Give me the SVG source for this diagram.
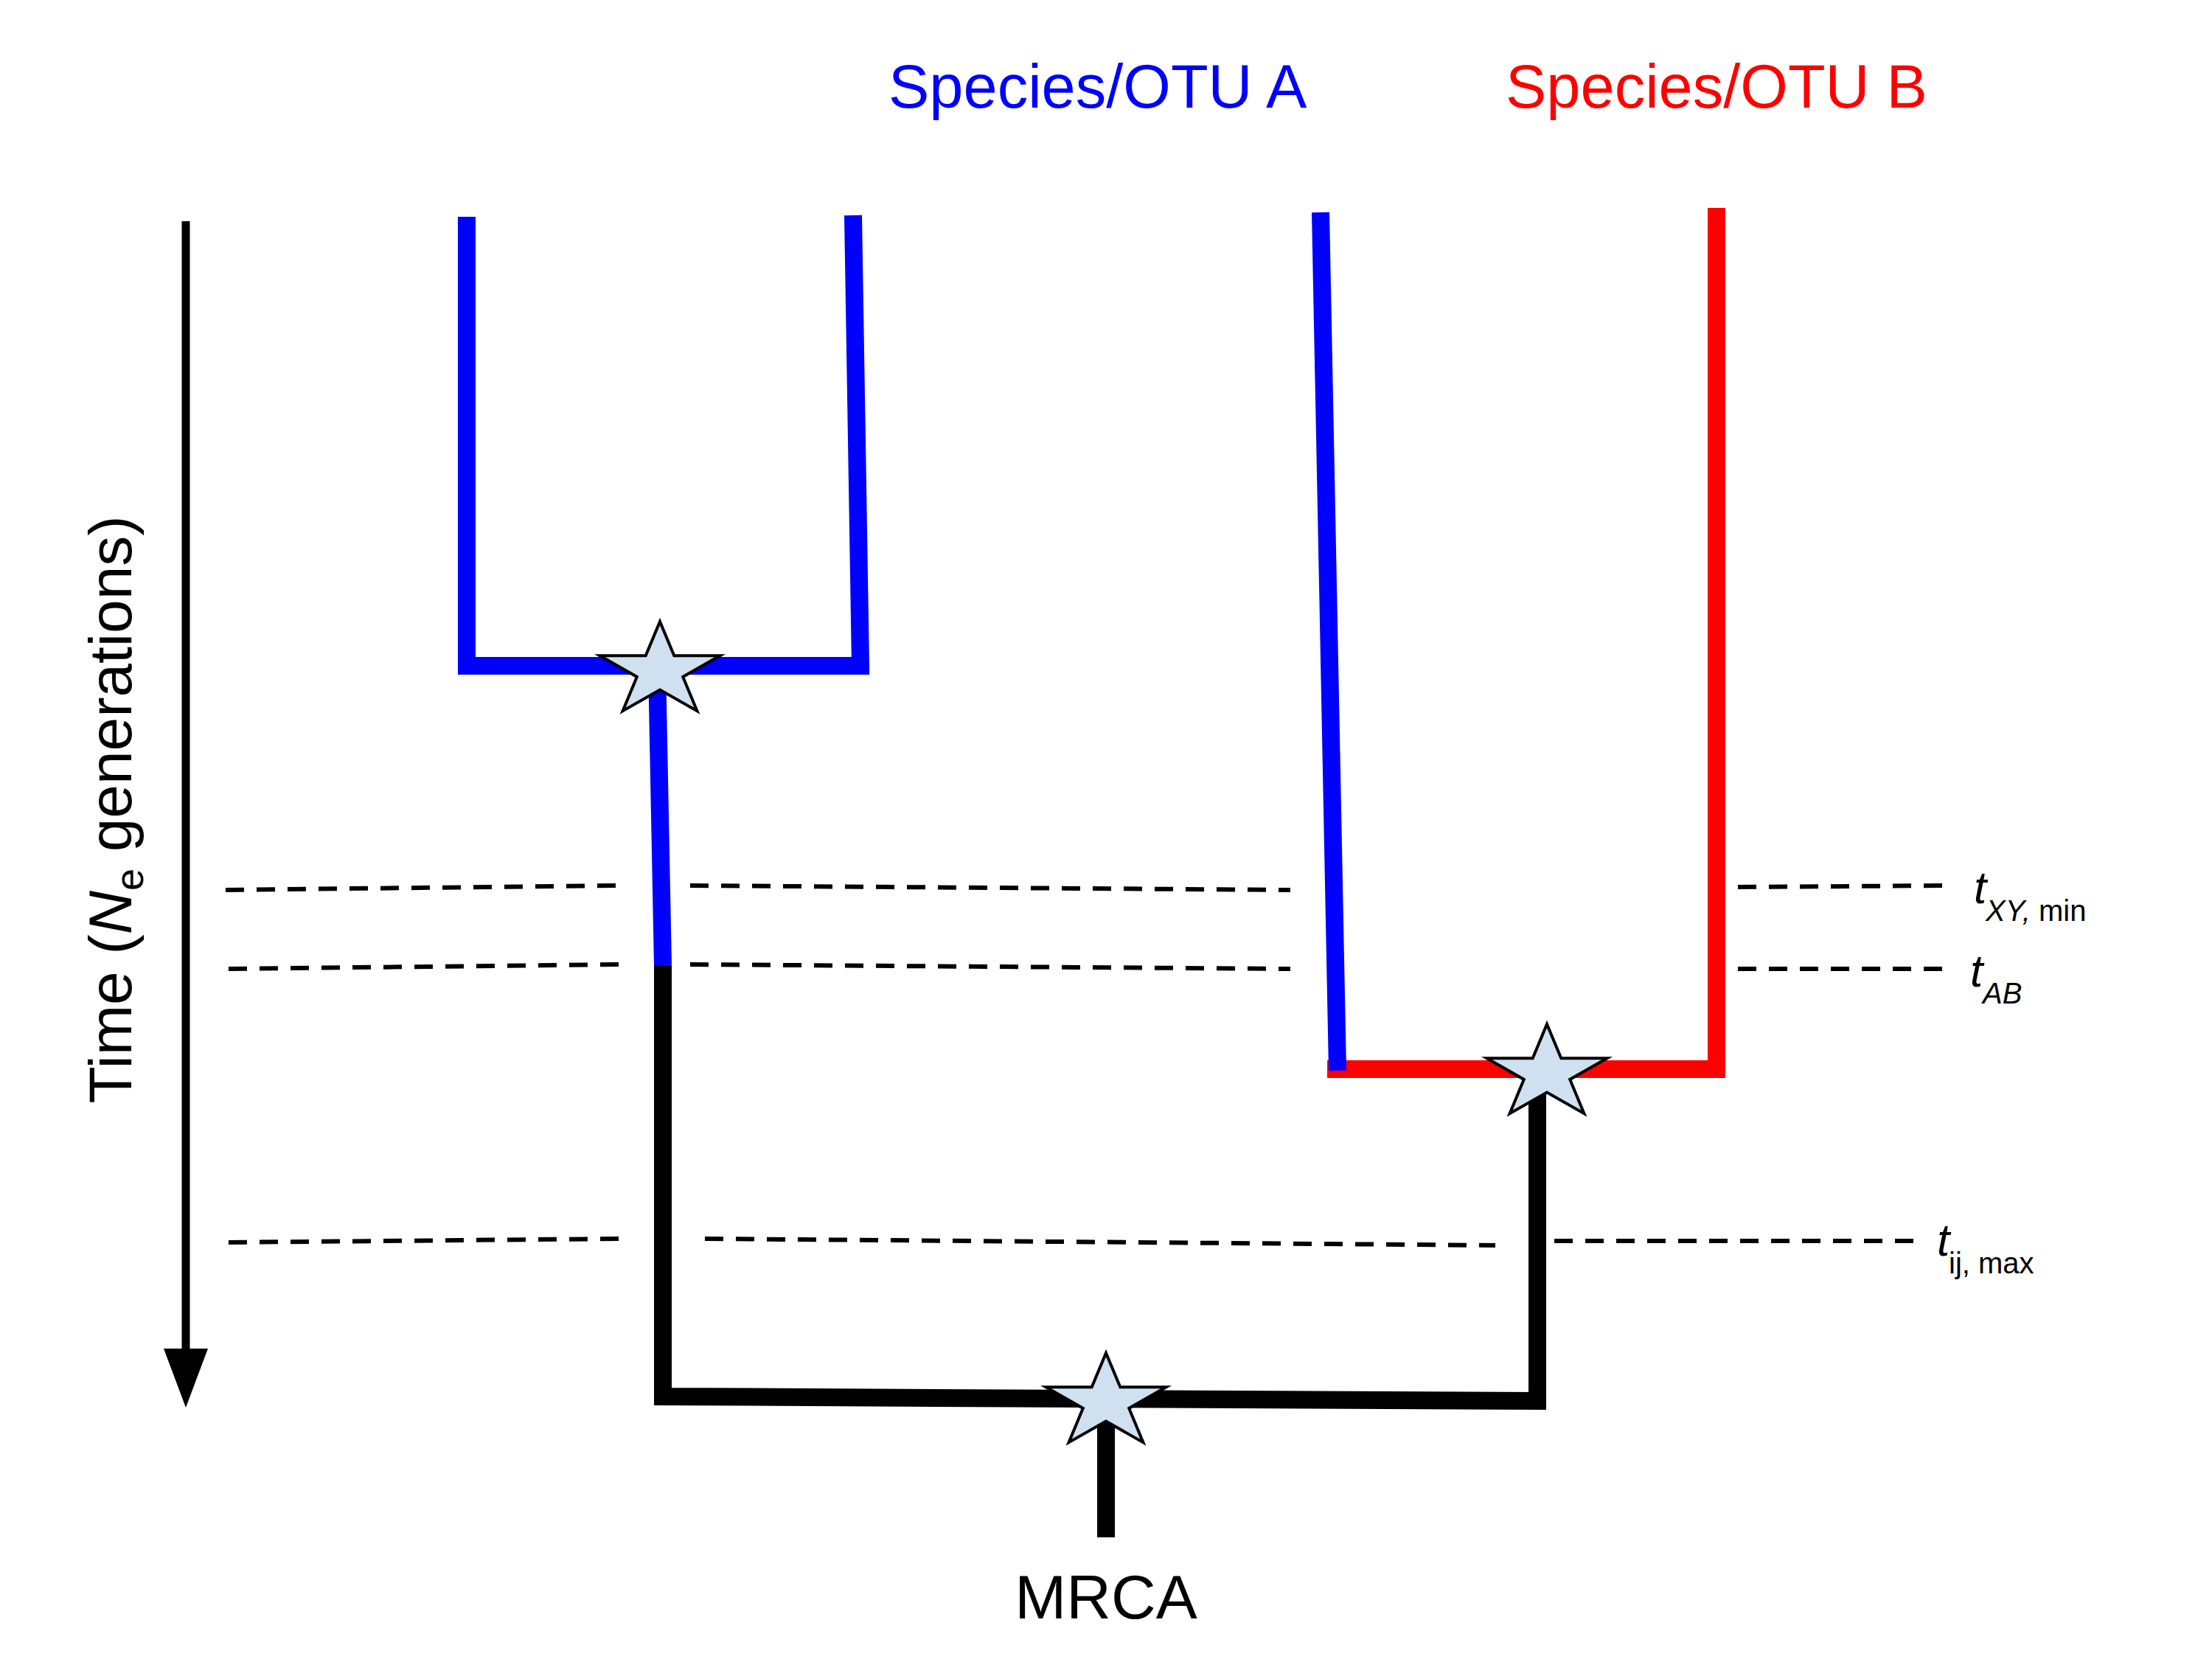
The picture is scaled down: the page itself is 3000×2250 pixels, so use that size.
<svg xmlns="http://www.w3.org/2000/svg" xmlns:xlink="http://www.w3.org/1999/xlink" width="3000" height="2250" viewBox="0 0 3000 2250">
<style>
text{font-family:"Liberation Sans",Arial,sans-serif;}
.br{fill:none;stroke-width:24;stroke-linecap:butt;stroke-linejoin:miter;}
.blue{stroke:#0000FF;}
.red{stroke:#FF0000;}
.blk{stroke:#000000;}
.dash{fill:none;stroke:#000;stroke-width:6;stroke-dasharray:25 17;}
.star{fill:#CFE0F1;stroke:#000;stroke-width:4;stroke-linejoin:miter;}
.lab{font-size:62px;font-style:italic;fill:#000;}
.sub{font-size:40px;fill:#000;}
.it{font-style:italic;}
</style>
<defs>
<path id="starShape" d="M0,-67 L19.3,-20.7 L81.5,-20.7 L31.2,7.9 L50.4,54.2 L0,25.6 L-50.4,54.2 L-31.2,7.9 L-81.5,-20.7 L-19.3,-20.7 Z"/>
</defs>
<rect width="3000" height="2250" fill="#FFFFFF"/>

<g id="titles">
<text x="1205" y="146" font-size="83" fill="#0000FF">Species/OTU A</text>
<text x="2042" y="146" font-size="83" fill="#FF0000">Species/OTU B</text>
</g>

<g id="axis">
<line x1="252" y1="300" x2="252" y2="1832" stroke="#000" stroke-width="11"/>
<polygon points="222,1829 282,1829 252,1909" fill="#000"/>
<text transform="translate(178,1098) rotate(-90)" text-anchor="middle" font-size="82" fill="#000">Time (<tspan class="it">N</tspan><tspan font-size="54" dy="16">e</tspan><tspan dy="-16"> generations)</tspan></text>
</g>

<g id="guides">
<line class="dash" x1="306" y1="1207" x2="837" y2="1201"/>
<line class="dash" x1="936" y1="1201" x2="1750" y2="1207"/>
<line class="dash" x1="2357" y1="1203" x2="2646" y2="1201"/>
<line class="dash" x1="310" y1="1314" x2="842" y2="1308"/>
<line class="dash" x1="936" y1="1308" x2="1750" y2="1314"/>
<line class="dash" x1="2357" y1="1314" x2="2640" y2="1314"/>
<line class="dash" x1="310" y1="1685" x2="842" y2="1680"/>
<line class="dash" x1="956" y1="1680" x2="2028" y2="1689"/>
<line class="dash" x1="2108" y1="1683" x2="2595" y2="1683"/>
</g>

<g id="guide-labels">
<text class="lab" x="2677" y="1225">t</text>
<text class="sub" x="2693" y="1249"><tspan class="it">XY,</tspan> min</text>
<text class="lab" x="2672" y="1338">t</text>
<text class="sub it" x="2689" y="1361">AB</text>
<text class="lab" x="2627" y="1703">t</text>
<text class="sub" x="2643" y="1727">ij, max</text>
</g>

<g id="connectors">
<polyline class="br blue" points="633,294 633,903 1167,903 1157,292"/>
<line class="br blue" x1="891" y1="903" x2="899" y2="1309"/>
<polyline class="br blk" points="899,1309 899,1894 2085,1900 2085,1460"/>
<line class="br blk" x1="1500" y1="1900" x2="1500" y2="2085"/>
<polyline class="br red" points="1800,1450 2328,1450 2328,282"/>
<line class="br blue" x1="1791" y1="288" x2="1814" y2="1452"/>
</g>

<g id="node-A">
<use xlink:href="#starShape" class="star" x="895" y="910"/>
</g>
<g id="node-B">
<use xlink:href="#starShape" class="star" x="2098" y="1456"/>
</g>
<g id="node-MRCA">
<use xlink:href="#starShape" class="star" x="1500" y="1902"/>
<text x="1500" y="2195" font-size="84" text-anchor="middle" fill="#000">MRCA</text>
</g>
</svg>
